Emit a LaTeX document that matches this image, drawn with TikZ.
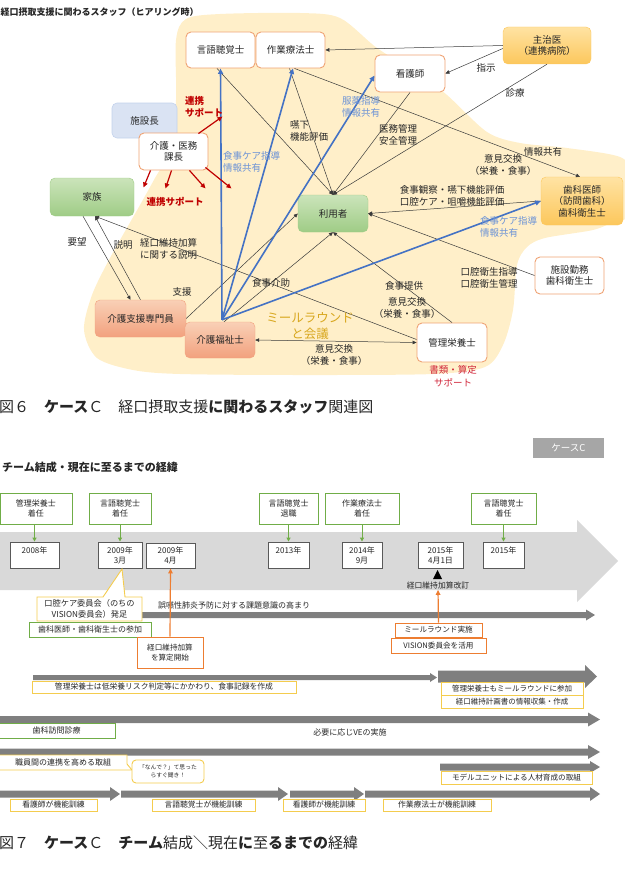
\documentclass[tikz,border=0pt]{standalone}
\usepackage{fontspec}
\setmainfont{Noto Sans CJK JP}
\usetikzlibrary{arrows.meta,calc}
\definecolor{blobc}{HTML}{FFEFC9}
\definecolor{obord}{HTML}{EFA374}
\definecolor{orgT}{HTML}{FFE3A3}
\definecolor{orgB}{HTML}{FCC75C}
\definecolor{grnT}{HTML}{CBE4BA}
\definecolor{grnB}{HTML}{9FCC86}
\definecolor{salT}{HTML}{F9D0B6}
\definecolor{salB}{HTML}{F2A17E}
\definecolor{bluF}{HTML}{DAE3F3}
\definecolor{bluD}{HTML}{C3D2EC}
\definecolor{lineg}{HTML}{3A3A3A}
\definecolor{blueA}{HTML}{4472C4}
\definecolor{blueT}{HTML}{6C93D6}
\definecolor{redA}{HTML}{C00000}
\definecolor{redT}{HTML}{D0263A}
\definecolor{goldT}{HTML}{D8A71E}
\definecolor{bandc}{HTML}{D9D9D9}
\definecolor{barc}{HTML}{7F7F7F}
\definecolor{grnL}{HTML}{70AD47}
\definecolor{yelD}{HTML}{F4CC4E}
\definecolor{orgL}{HTML}{ED7D31}
\definecolor{yrB}{HTML}{595959}
\definecolor{caseG}{HTML}{A6A6A6}
\definecolor{txt}{HTML}{262626}
\newcommand{\myfs}[2]{\fontsize{#1}{#2}\selectfont}
\newcommand{\barr}[7]{\fill[#7] (#1,#3-#4) -- (#2-#6,#3-#4) -- (#2-#6,#3-#5) -- (#2,#3) -- (#2-#6,#3+#5) -- (#2-#6,#3+#4) -- (#1,#3+#4) -- cycle;}
\tikzset{
 base/.style={align=center, inner sep=0pt, text=txt, font=\myfs{9.5}{11.5}},
 wbox/.style={base, draw=obord, line width=0.9pt, fill=white, rounded corners=5pt},
 obox/.style={base, draw=orgB, line width=0.4pt, top color=orgT, bottom color=orgB, rounded corners=5pt},
 gbox/.style={base, draw=grnB, line width=0.4pt, top color=grnT, bottom color=grnB, rounded corners=5pt},
 sbox/.style={base, draw=salB, line width=0.4pt, top color=salT, bottom color=salB, rounded corners=5pt},
 bbox/.style={base, draw=bluD, line width=0.6pt, fill=bluF, rounded corners=5pt},
 gl/.style={draw=lineg, line width=0.5pt, -{Triangle[length=4pt,width=3.6pt]}},
 glb/.style={draw=lineg, line width=0.5pt, {Triangle[length=4pt,width=3.6pt]}-{Triangle[length=4pt,width=3.6pt]}},
 bl/.style={draw=blueA, line width=1.6pt, -{Triangle[length=5.5pt,width=5pt]}},
 rl/.style={draw=redA, line width=1.2pt, -{Triangle[length=5pt,width=4.5pt]}},
 lab/.style={base, font=\myfs{9.5}{12.5}},
 blab/.style={lab, text=blueT, align=left},
 rlab/.style={lab, text=redA, font=\bfseries\myfs{9.5}{12.5}},
 grbox/.style={base, draw=grnL, line width=1pt, fill=white, font=\myfs{8}{10}},
 yrbox/.style={base, draw=yrB, line width=0.9pt, fill=white, font=\myfs{8}{10}},
 ybox/.style={base, draw=yelD, line width=0.9pt, fill=white, font=\myfs{7.8}{9.5}},
 orbox/.style={base, draw=orgL, line width=0.9pt, fill=white, font=\myfs{7.6}{9.5}},
 tl/.style={base, font=\myfs{8}{10}},
 garr/.style={draw=grnL, line width=1pt, -{Triangle[length=4pt,width=4pt]}},
 oarr/.style={draw=orgL, line width=1.2pt, -{Triangle[length=5pt,width=4.5pt]}}
}
\begin{document}
\begin{tikzpicture}[x=1pt,y=-1pt]
\useasboundingbox (0,0) rectangle (624,883);
% ---------------- Figure 6 ----------------
\fill[blobc] plot[smooth cycle, tension=0.5] coordinates {(176,40) (186,19) (220,14) (300,13) (340,18) (377,48) (420,75) (447,95) (487,132) (520,143) (567,148) (620,157) (632,175) (630,215) (613,222) (593,230) (545,238) (527,247) (517,265) (513,310) (503,345) (485,367) (433,374) (300,375) (180,374) (133,370) (97,358) (84,330) (92,295) (110,258) (140,205) (155,178) (170,150) (176,100)};

\node[anchor=west, base, font=\bfseries\myfs{9}{11}] (t1) at (0.5,12) {経口摂取支援に関わるスタッフ（ヒアリング時）};

\node[bbox, minimum width=65pt, minimum height=35pt] (shisetsu) at (144.5,120.5) {施設長};
\node[wbox, minimum width=69pt, minimum height=36pt] (gengo) at (220.5,50) {言語聴覚士};
\node[wbox, minimum width=69pt, minimum height=36pt] (sagyo) at (290.5,50) {作業療法士};
\node[wbox, minimum width=70pt, minimum height=37pt] (kango) at (410,73.5) {看護師};
\node[obox, minimum width=88pt, minimum height=37pt] (shuji) at (547,45.5) {主治医\\（連携病院）};
\node[wbox, minimum width=69pt, minimum height=37pt] (kacho) at (173.5,151.5) {介護・医務\\課長};
\node[gbox, minimum width=84pt, minimum height=38pt] (kazoku) at (92,197) {家族};
\node[gbox, minimum width=70pt, minimum height=37pt] (riyo) at (333,213.5) {利用者};
\node[obox, minimum width=82pt, minimum height=48pt] (shika) at (582,201) {歯科医師\\（訪問歯科）\\歯科衛生士};
\node[wbox, minimum width=69pt, minimum height=37pt] (kinmu) at (569.5,275.5) {施設勤務\\歯科衛生士};
\node[sbox, minimum width=91pt, minimum height=37pt] (caremgr) at (140.5,318.5) {介護支援専門員};
\node[sbox, minimum width=70pt, minimum height=36pt] (kaigo) at (220,340) {介護福祉士};
\node[wbox, minimum width=70pt, minimum height=39pt] (eiyo) at (452,342.5) {管理栄養士};

% thin connectors
\draw[gl] (shuji.west) -- (sagyo.east);
\draw[gl] ($(shuji.west)+(0,3)$) -- (kango.east);
\draw[gl] (shuji.south) -- (riyo.north);
\draw[gl] (kango.south) -- (riyo.north);
\draw[gl] ($(gengo.south)+(-3.5,0)$) -- (riyo.north);
\draw[gl] ($(sagyo.south)+(-1,0)$) -- (riyo.north);
\draw[gl] ($(sagyo.south)+(4,0)$) -- ($(shika.north)+(-2,0)$);
\draw[gl] ($(kaigo.north)+(4,0)$) -- (riyo.south);
\draw[gl] (caremgr.east) -- (riyo.west);
\draw[gl] (eiyo.north) -- (riyo.south);
\draw[gl] (kinmu.west) -- (riyo.east);
\draw[gl] (shika.west) -- (riyo.east);
\draw[glb] (kaigo.east) -- (eiyo.west);
\draw[gl] ($(kazoku.south)+(-9,0)$) -- ($(caremgr.north)+(-10,0)$);
\draw[gl] (caremgr.north) -- ($(kazoku.south)+(3,0)$);
\draw[gl] ($(eiyo.west)+(0,-3)$) -- ($(kazoku.south)+(3,0)$);

% blue connectors
\coordinate (kb) at ($(kaigo.north)+(2,-2)$);
\draw[bl] (kb) -- (gengo.south);
\draw[bl] (kb) -- ($(sagyo.south)+(2.5,0)$);
\draw[bl] (kb) -- ($(kango.west)+(0,2)$);
\draw[bl] (kb) -- (shika.west);

% red arrows
\draw[rl] ($(kacho.north east)+(-10,1)$) -- +(24,-17);
\draw[rl] ($(kacho.south)+(-23,0)$) -- +(-7,17);
\draw[rl] ($(kacho.south)+(-2,0)$) -- +(-6,18);
\draw[rl] ($(kacho.south)+(16,0)$) -- +(16,18);
\draw[rl] ($(kacho.south east)+(-3,-3)$) -- +(26,21);

% labels
\node[rlab, anchor=west, align=left] (r1) at (185,107) {連携\\サポート};
\node[rlab] (r2) at (175,202) {連携サポート};
\node[lab, text=redT] (r3) at (453,376) {書類・算定\\サポート};
\node[blab, anchor=west] (b1) at (223,162) {食事ケア指導\\情報共有};
\node[blab, anchor=west] (b2) at (342,107) {服薬指導\\情報共有};
\node[blab, anchor=west] (b3) at (480,227) {食事ケア指導\\情報共有};
\node[lab, anchor=west, align=left] (l1) at (290,131) {嚥下\\機能評価};
\node[lab] (l2) at (398,135) {医務管理\\安全管理};
\node[lab] (l3) at (486,68) {指示};
\node[lab] (l4) at (515,93) {診療};
\node[lab] (l5) at (543,152) {情報共有};
\node[lab] (l6) at (503,165) {意見交換\\（栄養・食事）};
\node[lab] (l7) at (452,196) {食事観察・嚥下機能評価\\口腔ケア・咀嚼機能評価};
\node[lab] (l8) at (489,278) {口腔衛生指導\\口腔衛生管理};
\node[lab] (l9) at (404,286) {食事提供};
\node[lab] (l10) at (407,308) {意見交換\\（栄養・食事）};
\node[lab] (l11) at (334,355) {意見交換\\（栄養・食事）};
\node[lab, text=goldT, font=\myfs{12.5}{16}] (l12) at (310,326) {ミールラウンド\\と会議};
\node[lab] (l13) at (271,283) {食事介助};
\node[lab] (l14) at (182,292) {支援};
\node[lab] (l15) at (77,242) {要望};
\node[lab] (l16) at (123,245) {説明};
\node[lab, anchor=west, align=left] (l17) at (140,249) {経口維持加算\\に関する説明};

\node[base, anchor=west, font=\myfs{15}{18}] (cap6) at (-1,407) {図６　{\bfseries ケース}Ｃ　経口摂取支援{\bfseries に関わるスタッフ}関連図};

% ---------------- Figure 7 ----------------
\node[base, fill=caseG, text=white, minimum width=71pt, minimum height=20pt, font=\myfs{9.5}{11}] (case) at (568.5,448) {ケースC};
\node[base, anchor=west, font=\bfseries\myfs{11}{13}] (t2) at (2,467) {チーム結成・現在に至るまでの経緯};

\fill[bandc] (0,532) -- (577,532) -- (577,520) -- (618,561) -- (577,602) -- (577,590) -- (0,590) -- cycle;

\node[grbox, minimum width=72pt, minimum height=31pt] (g1) at (36,508.5) {管理栄養士\\着任};
\node[grbox, minimum width=62pt, minimum height=31pt] (g2) at (120,508.5) {言語聴覚士\\着任};
\node[grbox, minimum width=59pt, minimum height=31pt] (g3) at (288.5,508.5) {言語聴覚士\\退職};
\node[grbox, minimum width=74pt, minimum height=31pt] (g4) at (362,508.5) {作業療法士\\着任};
\node[grbox, minimum width=65pt, minimum height=31pt] (g5) at (503.5,508.5) {言語聴覚士\\着任};

\node[yrbox, minimum width=49pt, minimum height=26pt] (y1) at (34.5,555) {2008年\\\mbox{}};
\node[yrbox, minimum width=44pt, minimum height=26pt] (y2) at (120,555) {2009年\\3月};
\node[yrbox, minimum width=49pt, minimum height=25pt] (y3) at (170.5,555.5) {2009年\\4月};
\node[yrbox, minimum width=41pt, minimum height=26pt] (y4) at (288.5,555) {2013年\\\mbox{}};
\node[yrbox, minimum width=40pt, minimum height=26pt] (y5) at (362,555) {2014年\\9月};
\node[yrbox, minimum width=45pt, minimum height=26pt] (y6) at (440.5,555) {2015年\\4月1日};
\node[yrbox, minimum width=41pt, minimum height=26pt] (y7) at (503.5,555) {2015年\\\mbox{}};

\draw[garr] (y1.north |- g1.south) -- (y1.north);
\draw[garr] (g2.south) -- (y2.north);
\draw[garr] (g3.south) -- (y4.north);
\draw[garr] (g4.south) -- (y5.north);
\draw[garr] (g5.south) -- (y7.north);

\fill[black] (433,579) -- (442,579) -- (437.5,570) -- cycle;
\node[tl, font=\myfs{7.8}{9}] (kaitei) at (438,586) {経口維持加算改訂};

% row: awareness
\barr{142}{595}{615}{3}{5.5}{9}{barc}
\node[tl] (gosen) at (234,605) {誤嚥性肺炎予防に対する課題意識の高まり};
\draw[yelD, line width=0.9pt, fill=white] (37,597) -- (103,597) -- (122,569) -- (125,597) -- (142,597) -- (142,621) -- (37,621) -- cycle;
\node[tl, font=\myfs{8.2}{11}] (c1) at (89.5,609) {口腔ケア委員会（のちの\\VISION委員会）発足};
\node[grbox, minimum width=122pt, minimum height=15pt] (dent) at (90,629.5) {歯科医師・歯科衛生士の参加};
\node[orbox, minimum width=66pt, minimum height=31pt] (kz) at (170,652.5) {経口維持加算\\を算定開始};
\draw[oarr] (kz.north) -- (y3.south);
\node[orbox, minimum width=87pt, minimum height=14pt] (mr1) at (438.5,630) {ミールラウンド実施};
\node[orbox, minimum width=95pt, minimum height=15pt] (mr2) at (438.5,645.5) {VISION委員会を活用};
\draw[oarr] (mr1.north) -- (kaitei.south);

% row: dietitian
\barr{33}{437}{677.5}{2.5}{4.5}{7}{barc}
\barr{438}{597}{676.5}{6}{11.5}{12}{barc}
\node[ybox, minimum width=264pt, minimum height=12pt] (d1) at (164,687) {管理栄養士は低栄養リスク判定等にかかわり、食事記録を作成};
\node[ybox, minimum width=142pt, minimum height=13pt, font=\myfs{7.5}{9}] (d2) at (512,688.5) {管理栄養士もミールラウンドに参加};
\node[ybox, minimum width=142pt, minimum height=13pt, font=\myfs{7.5}{9}] (d3) at (512,702) {経口維持計画書の情報収集・作成};

% row: dental visit
\barr{0}{600}{719.5}{3.5}{7}{12}{barc}
\node[grbox, minimum width=117pt, minimum height=15pt] (sv) at (56.5,730.5) {歯科訪問診療};
\node[tl] (ve) at (350,732) {必要に応じVEの実施};

% row: staff cooperation
\barr{0}{600}{752}{3.5}{7}{12}{barc}
\draw[yelD, line width=0.9pt, fill=white] (-2,755) -- (127,755) -- (127,764) -- (132,770) -- (121,770) -- (-2,770) -- cycle;
\node[tl, font=\myfs{8}{9.5}] (sk) at (63,762.5) {職員間の連携を高める取組};
\node[ybox, rounded corners=4pt, minimum width=72pt, minimum height=23pt, font=\myfs{5.8}{8}] (nande) at (168,771.5) {「なんで？」て思った\\らすぐ聞き！};
\barr{440}{600}{767}{3.5}{6}{10}{barc}
\node[ybox, minimum width=151pt, minimum height=13pt, font=\myfs{7.6}{9}] (mu) at (516.5,777.5) {モデルユニットによる人材育成の取組};

% row: training
\barr{0}{120}{794}{3.5}{7}{10}{barc}
\barr{121}{288}{794}{3.5}{7}{10}{barc}
\barr{290}{364}{794}{3.5}{7}{10}{barc}
\barr{365}{600}{794}{3.5}{7}{10}{barc}
\node[ybox, minimum width=87pt, minimum height=12pt] (k1) at (53.5,805) {看護師が機能訓練};
\node[ybox, minimum width=103pt, minimum height=12pt] (k2) at (203.5,805) {言語聴覚士が機能訓練};
\node[ybox, minimum width=82pt, minimum height=12pt] (k3) at (324,805) {看護師が機能訓練};
\node[ybox, minimum width=108pt, minimum height=12pt] (k4) at (437,805) {作業療法士が機能訓練};

\node[base, anchor=west, font=\myfs{15}{18}] (cap7) at (-1,843) {図７　{\bfseries ケース}Ｃ　{\bfseries チーム}結成＼現在{\bfseries に}至{\bfseries るまでの}経緯};
\end{tikzpicture}
\end{document}
